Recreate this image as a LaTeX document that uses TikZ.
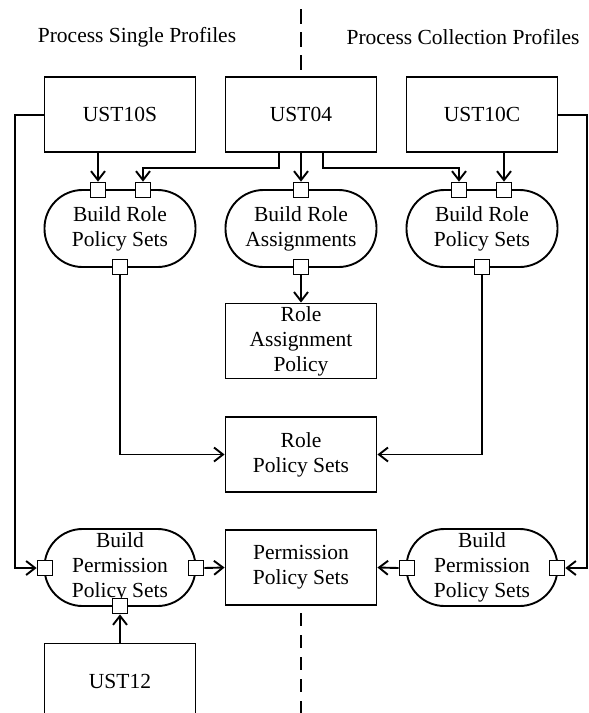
\documentclass[tikz,border=0pt]{standalone}
\usepackage{fontspec}
\setmainfont{Liberation Serif}
\usetikzlibrary{arrows.meta}
\tikzset{
  box/.style={draw, line width=1.9pt, rectangle, minimum width=151pt, minimum height=75pt, align=center, inner sep=0pt, font=\fontsize{21.5}{25}\selectfont},
  proc/.style={draw, line width=1.9pt, rectangle, rounded corners=38pt, minimum width=151pt, minimum height=77pt, align=center, inner sep=0pt, font=\fontsize{21.5}{25}\selectfont},
  port/.style={draw, line width=1.7pt, fill=white, rectangle, minimum size=15pt, inner sep=0pt},
  conn/.style={line width=1.9pt, -{Straight Barb[length=9pt,width=14pt,line width=1.9pt]}},
  sep/.style={line width=2pt},
  title/.style={font=\fontsize{21.5}{25}\selectfont, inner sep=0pt}
}
\begin{document}
\begin{tikzpicture}[x=1pt,y=-1pt]
\clip (0,0) rectangle (589,713);
\fill[white] (0,0) rectangle (589,713);
% separator
\coordinate (d1) at (301,9);
\coordinate (d2) at (301,71);
\coordinate (d3) at (301,613);
\coordinate (d4) at (301,720);
\draw[sep, dash pattern=on 15pt off 8pt] (d1) -- (d2);
\draw[sep, dash pattern=on 13pt off 9pt] (d3) -- (d4);
% titles
\node[title] (t1) at (137,37) {Process Single Profiles};
\node[title] (t2) at (463,37) {Process Collection Profiles};
% top boxes
\node[box] (u10s) at (120,114.5) {UST10S};
\node[box] (u04) at (301,114.5) {UST04};
\node[box] (u10c) at (482,114.5) {UST10C};
% role processes
\node[proc] (brl) at (120,228.5) {Build Role\\Policy Sets};
\node[proc] (bra) at (301,228.5) {Build Role\\Assignments};
\node[proc] (brr) at (482,228.5) {Build Role\\Policy Sets};
% role data
\node[box] (rap) at (301,341) {Role\\Assignment\\Policy};
\node[box] (rps) at (301,454.5) {Role\\Policy Sets};
\node[box] (pps) at (301,567.5) {Permission\\Policy Sets};
% permission processes
\node[proc] (bpl) at (120,567.5) {Build\\Permission\\Policy Sets};
\node[proc] (bpr) at (482,567.5) {Build\\Permission\\Policy Sets};
\node[box] (u12) at (120,681) {UST12};
% ports
\node[port] (pl1) at (98,190) {};
\node[port] (pl2) at (143,190) {};
\node[port] (plb) at (120,267) {};
\node[port] (pm1) at (301,190) {};
\node[port] (pmb) at (301,267) {};
\node[port] (pr1) at (459,190) {};
\node[port] (pr2) at (504,190) {};
\node[port] (prb) at (482,267) {};
\node[port] (ql1) at (45,568) {};
\node[port] (ql2) at (196,568) {};
\node[port] (qlb) at (120,606) {};
\node[port] (qr1) at (407,568) {};
\node[port] (qr2) at (557,568) {};
% connectors
\draw[conn] (u10s.south -| pl1) -- (pl1.north);
\draw[conn] (u04.south -| pm1) -- (pm1.north);
\draw[conn] (u10c.south -| pr2) -- (pr2.north);
\draw[conn] (279,152) |- (143,168) -- (pl2.north);
\draw[conn] (323,152) |- (459,168) -- (pr1.north);
\draw[conn] (pmb.south) -- (rap.north);
\draw[conn] (plb.south) |- (rps.west);
\draw[conn] (prb.south) |- (rps.east);
\draw[conn] (u10s.west |- 0,115) -- (15,115) |- (ql1.west);
\draw[conn] (u10c.east |- 0,115) -- (587,115) |- (qr2.east);
\draw[conn] (ql2.east) -- (pps.west);
\draw[conn] (qr1.west) -- (pps.east);
\draw[conn] (u12.north) -- (qlb.south);
\end{tikzpicture}
\end{document}
